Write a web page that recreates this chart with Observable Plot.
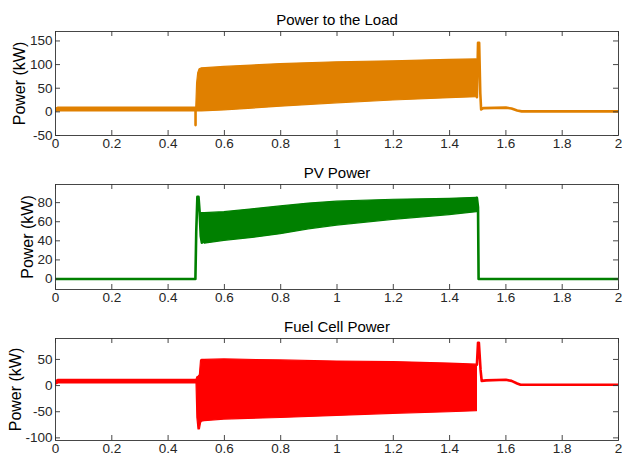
<!DOCTYPE html>
<html><head><meta charset="utf-8">
<script src="https://cdn.jsdelivr.net/npm/d3@7"></script>
<script src="https://cdn.jsdelivr.net/npm/@observablehq/plot@0.6"></script>
<style>
body{margin:0;background:#fff;}
#chart{position:relative;width:622px;height:456px;overflow:hidden;font-family:"Liberation Sans",Arial,Helvetica,sans-serif;}
#chart svg{position:absolute;left:0;background:transparent;}
</style></head><body><div id="chart"></div>
<script>
// ---- shared axis values ----
const xTicks = [0, 0.2, 0.4, 0.6, 0.8, 1, 1.2, 1.4, 1.6, 1.8, 2];
const xTickLabels = ["0", "0.2", "0.4", "0.6", "0.8", "1", "1.2", "1.4", "1.6", "1.8", "2"];
const titles = ["Power to the Load", "PV Power", "Fuel Cell Power"];
const yLabel = "Power (kW)";

// ---- Power to the Load ----
const loadYTicks = [-50, 0, 50, 100, 150];
const loadPreT = [0, 0.01, 0.1, 0.2, 0.3, 0.4, 0.5];
const loadPreLo = [0, 1, 1, 1, 1, 1, 1];
const loadPreHi = [6, 9, 9, 9, 9, 9, 9];
const loadDipT = [0.4975, 0.4975];
const loadDipV = [5, -28];
const loadBandT = [0.5, 0.503, 0.507, 0.512, 0.52, 0.6, 0.8, 1.0, 1.2, 1.4, 1.497];
const loadBandLo = [1, 1, 1, 1, 1, 3, 11, 18, 24, 29, 31];
const loadBandHi = [8, 60, 82, 90, 92, 95, 101, 105, 107, 110, 111];
const loadPostT = [1.497, 1.501, 1.505, 1.509, 1.512, 1.52, 1.6, 1.62, 1.64, 1.656, 2];
const loadPostV = [31, 146, 146, 40, 5, 8, 9, 7, 3, 1, 1];

// ---- PV Power ----
const pvYTicks = [0, 20, 40, 60, 80];
const pvLineT = [0, 0.497, 0.5, 0.504, 0.508, 0.512, 0.516, 0.52];
const pvLineV = [0, 0, 50, 86, 86, 70, 45, 38];
const pvBandT = [0.514, 0.52, 0.53, 0.6, 0.7, 0.8, 0.9, 1.0, 1.2, 1.4, 1.497];
const pvBandLo = [65, 40, 37, 40, 43, 47, 52, 56, 62, 67, 70];
const pvBandHi = [68, 69, 69, 70, 73, 76, 79, 81, 83, 84, 85];
const pvPostT = [1.497, 1.501, 1.503, 2];
const pvPostV = [85, 75, 0, 0];

// ---- Fuel Cell Power ----
const fcYTicks = [-100, -50, 0, 50];
const fcPreT = [0, 0.01, 0.1, 0.3, 0.501];
const fcPreLo = [1, 4, 4, 4, 4];
const fcPreHi = [8, 11, 11, 11, 11];
const fcBandT = [0.501, 0.504, 0.508, 0.513, 0.517, 0.52, 0.53, 0.6, 0.8, 1.0, 1.2, 1.4, 1.497];
const fcBandLo = [4, -62, -84, -84, -72, -69, -68, -65, -62, -58, -54, -51, -49];
const fcBandHi = [11, 16, 17, 20, 48, 49, 49, 50, 48, 46, 45, 42, 40];
const fcPostT = [1.497, 1.501, 1.504, 1.51, 1.514, 1.53, 1.6, 1.62, 1.64, 1.652, 2];
const fcPostV = [40, 82, 82, 30, 9, 10, 11, 9, 4, 1.5, 1.5];

const band = (T, lo, hi) => T.map((t, i) => ({t, lo: lo[i], hi: hi[i]}));
const series = (T, V) => T.map((t, i) => ({t, v: V[i]}));

const AX = "#333333";
const W = 622;

function panel(cfg) {
  const {top, height, mt, mb, yDomain, yTicks, title, color, bands, lines, ylabelX} = cfg;
  const ml = 55, mr = 4;
  const innerH = height - mt - mb, innerW = W - ml - mr;
  const tk = 5;
  const marks = [];
  for (const b of bands) {
    marks.push(Plot.areaY(b, {x: "t", y1: "lo", y2: "hi", fill: color, stroke: color, strokeWidth: 1.2, clip: true}));
  }
  for (const l of lines) {
    marks.push(Plot.line(l, {x: "t", y: "v", stroke: color, strokeWidth: 2.6, strokeLinejoin: "round", strokeLinecap: "round", clip: true}));
  }
  marks.push(
    Plot.frame({stroke: AX, strokeWidth: 0.9}),
    Plot.tickX(xTicks, {x: d => d, insetTop: innerH - tk, stroke: AX, strokeWidth: 0.9}),
    Plot.tickX(xTicks, {x: d => d, insetBottom: innerH - tk, stroke: AX, strokeWidth: 0.9}),
    Plot.tickY(yTicks, {y: d => d, insetRight: innerW - tk, stroke: AX, strokeWidth: 0.9}),
    Plot.tickY(yTicks, {y: d => d, insetLeft: innerW - tk, stroke: AX, strokeWidth: 0.9}),
    Plot.axisX(xTicks, {tickSize: 0, tickPadding: 3, tickFormat: d => xTickLabels[xTicks.indexOf(d)], fontSize: 13.5, fill: "#262626", label: null}),
    Plot.axisY(yTicks, {tickSize: 0, tickPadding: 3, tickFormat: d => String(d), fontSize: 13.5, fill: "#262626", label: null}),
    Plot.text([title], {text: d => d, frameAnchor: "top", textAnchor: "middle", lineAnchor: "middle", dy: -11.5, fontSize: 15, fill: "#000"}),
    Plot.text([yLabel], {text: d => d, frameAnchor: "left", textAnchor: "middle", dx: ylabelX - ml, rotate: -90, fontSize: 16, fill: "#000"})
  );
  const svg = Plot.plot({
    width: W, height,
    marginLeft: ml, marginRight: mr, marginTop: mt, marginBottom: mb,
    x: {domain: [0, 2], axis: null},
    y: {domain: yDomain, axis: null},
    style: {fontFamily: '"Liberation Sans", Arial, Helvetica, sans-serif', background: "transparent", overflow: "visible"},
    marks
  });
  svg.style.top = top + "px";
  document.getElementById("chart").appendChild(svg);
}

panel({
  top: 0, height: 152, mt: 31, mb: 17, yDomain: [-50, 170], yTicks: loadYTicks,
  title: titles[0], color: "#e08000", ylabelX: 19,
  bands: [band(loadPreT, loadPreLo, loadPreHi), band(loadBandT, loadBandLo, loadBandHi)],
  lines: [series(loadDipT, loadDipV), series(loadPostT, loadPostV)]
});
panel({
  top: 152, height: 152, mt: 32, mb: 15, yDomain: [-11, 99], yTicks: pvYTicks,
  title: titles[1], color: "#008000", ylabelX: 27,
  bands: [band(pvBandT, pvBandLo, pvBandHi)],
  lines: [series(pvLineT, pvLineV), series(pvPostT, pvPostV)]
});
panel({
  top: 304, height: 152, mt: 34, mb: 16, yDomain: [-105, 90], yTicks: fcYTicks,
  title: titles[2], color: "#ff0000", ylabelX: 15,
  bands: [band(fcPreT, fcPreLo, fcPreHi), band(fcBandT, fcBandLo, fcBandHi)],
  lines: [series(fcPostT, fcPostV)]
});
</script>
</body></html>
